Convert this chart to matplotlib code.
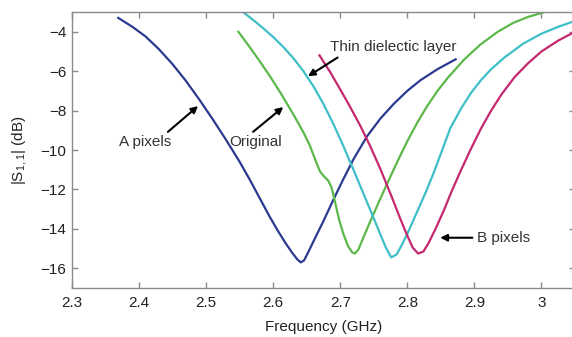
import matplotlib
matplotlib.use("Agg")
import matplotlib.pyplot as plt

plt.rcParams['font.family'] = ['Liberation Sans', 'DejaVu Sans']
plt.rcParams['mathtext.default'] = 'regular'

# A pixels (blue)
a_freq = [2.369, 2.39, 2.41, 2.43, 2.45, 2.47, 2.49, 2.51, 2.53, 2.55, 2.565, 2.58,
          2.595, 2.607, 2.618, 2.628, 2.636, 2.641, 2.646, 2.652, 2.662, 2.675, 2.690, 2.705,
          2.720, 2.740, 2.760, 2.780, 2.800, 2.820, 2.845, 2.872]
a_s11 = [-3.3, -3.75, -4.25, -4.9, -5.65, -6.5, -7.45, -8.45, -9.5, -10.6, -11.5, -12.45,
         -13.4, -14.1, -14.7, -15.2, -15.55, -15.7, -15.6, -15.2, -14.5, -13.6, -12.5, -11.45,
         -10.45, -9.3, -8.4, -7.65, -7.0, -6.45, -5.9, -5.4]

# Original (green)
o_freq = [2.548, 2.565, 2.581, 2.595, 2.610, 2.625, 2.636, 2.645, 2.655, 2.665, 2.670, 2.676,
          2.682, 2.687, 2.692, 2.698, 2.705, 2.712, 2.718, 2.722, 2.727, 2.735, 2.745, 2.758,
          2.770, 2.785, 2.800, 2.815, 2.830, 2.845, 2.860, 2.885, 2.909, 2.935, 2.958, 2.980, 3.005]
o_s11 = [-4.0, -4.78, -5.55, -6.25, -7.05, -7.9, -8.55, -9.1, -9.8, -10.7, -11.1, -11.35,
         -11.55, -11.9, -12.6, -13.5, -14.3, -14.9, -15.2, -15.25, -15.05, -14.4, -13.6, -12.6,
         -11.7, -10.6, -9.55, -8.6, -7.75, -7.0, -6.35, -5.4, -4.65, -4.0, -3.55, -3.25, -3.0]

# Thin dielectric layer (cyan)
t_freq = [2.555, 2.570, 2.585, 2.600, 2.615, 2.630, 2.645, 2.660, 2.675, 2.690, 2.705, 2.720,
          2.735, 2.750, 2.760, 2.768, 2.776, 2.784, 2.792, 2.802, 2.815, 2.828, 2.840, 2.852,
          2.864, 2.880, 2.895, 2.910, 2.925, 2.945, 2.973, 3.000, 3.025, 3.050]
t_s11 = [-3.0, -3.4, -3.82, -4.27, -4.77, -5.34, -6.0, -6.77, -7.67, -8.7, -9.83, -11.03,
         -12.25, -13.47, -14.3, -14.95, -15.45, -15.3, -14.8, -14.1, -13.1, -12.1, -11.1, -10.0,
         -8.9, -7.9, -7.1, -6.45, -5.9, -5.3, -4.6, -4.1, -3.75, -3.45]

# B pixels (magenta)
b_freq = [2.669, 2.685, 2.700, 2.715, 2.730, 2.745, 2.760, 2.775, 2.790, 2.800, 2.808, 2.816,
          2.824, 2.832, 2.842, 2.854, 2.866, 2.879, 2.894, 2.910, 2.925, 2.940, 2.960, 2.980,
          3.000, 3.025, 3.050]
b_s11 = [-5.2, -6.05, -6.93, -7.83, -8.78, -9.83, -10.98, -12.23, -13.53, -14.35, -14.95, -15.25,
         -15.15, -14.7, -14.0, -13.1, -12.1, -11.1, -10.0, -8.9, -8.0, -7.2, -6.3, -5.6,
         -5.0, -4.45, -4.0]

x_ticks = [2.3, 2.4, 2.5, 2.6, 2.7, 2.8, 2.9, 3.0]
x_labels = ["2.3", "2.4", "2.5", "2.6", "2.7", "2.8", "2.9", "3"]
y_ticks = [-16, -14, -12, -10, -8, -6, -4]

fig = plt.figure(figsize=(5.72, 3.37), dpi=100)
ax = fig.add_axes([72/572, 1-288/337, 503/572, 276/337])

lw = 1.6
ax.plot(a_freq, a_s11, color='#2b3a8f', lw=lw)
ax.plot(o_freq, o_s11, color='#5cb84a', lw=lw)
ax.plot(t_freq, t_s11, color='#3ebfc8', lw=lw)
ax.plot(b_freq, b_s11, color='#c4286f', lw=lw)

ax.set_xlim(2.3, 3.05)
ax.set_ylim(-17, -3)
ax.set_xticks(x_ticks)
ax.set_xticklabels(x_labels)
ax.set_yticks(y_ticks)

spine_col = '#8a8a8a'
for s in ax.spines.values():
    s.set_color(spine_col)
    s.set_linewidth(1.0)
ax.tick_params(direction='in', length=4, width=1, color=spine_col,
               top=True, right=True, labelsize=11, labelcolor='#222222')
ax.tick_params(axis='x', pad=6)
ax.tick_params(axis='y', pad=4)

ax.set_xlabel('Frequency (GHz)', fontsize=11, color='#222222', labelpad=7)
ax.set_ylabel('|S$_{1,1}$| (dB)', fontsize=11, color='#222222', labelpad=8)

arr = dict(arrowstyle='-|>', color='black', lw=1.5, mutation_scale=10,
           shrinkA=0, shrinkB=0)
tk = dict(fontsize=11, color='#333333', ha='center', va='center')
ax.annotate('', xy=(2.488, -7.77), xytext=(2.443, -9.08), arrowprops=arr)
ax.text(2.409, -9.58, 'A pixels', **tk)
ax.annotate('', xy=(2.615, -7.82), xytext=(2.570, -9.08), arrowprops=arr)
ax.text(2.573, -9.58, 'Original', **tk)
ax.annotate('', xy=(2.652, -6.26), xytext=(2.696, -5.31), arrowprops=arr)
ax.text(2.779, -4.75, 'Thin dielectic layer', **tk)
ax.annotate('', xy=(2.849, -14.45), xytext=(2.897, -14.45), arrowprops=arr)
ax.text(2.904, -14.45, 'B pixels', fontsize=11, color='#333333', ha='left', va='center')

fig.savefig('out.png', dpi=100)
